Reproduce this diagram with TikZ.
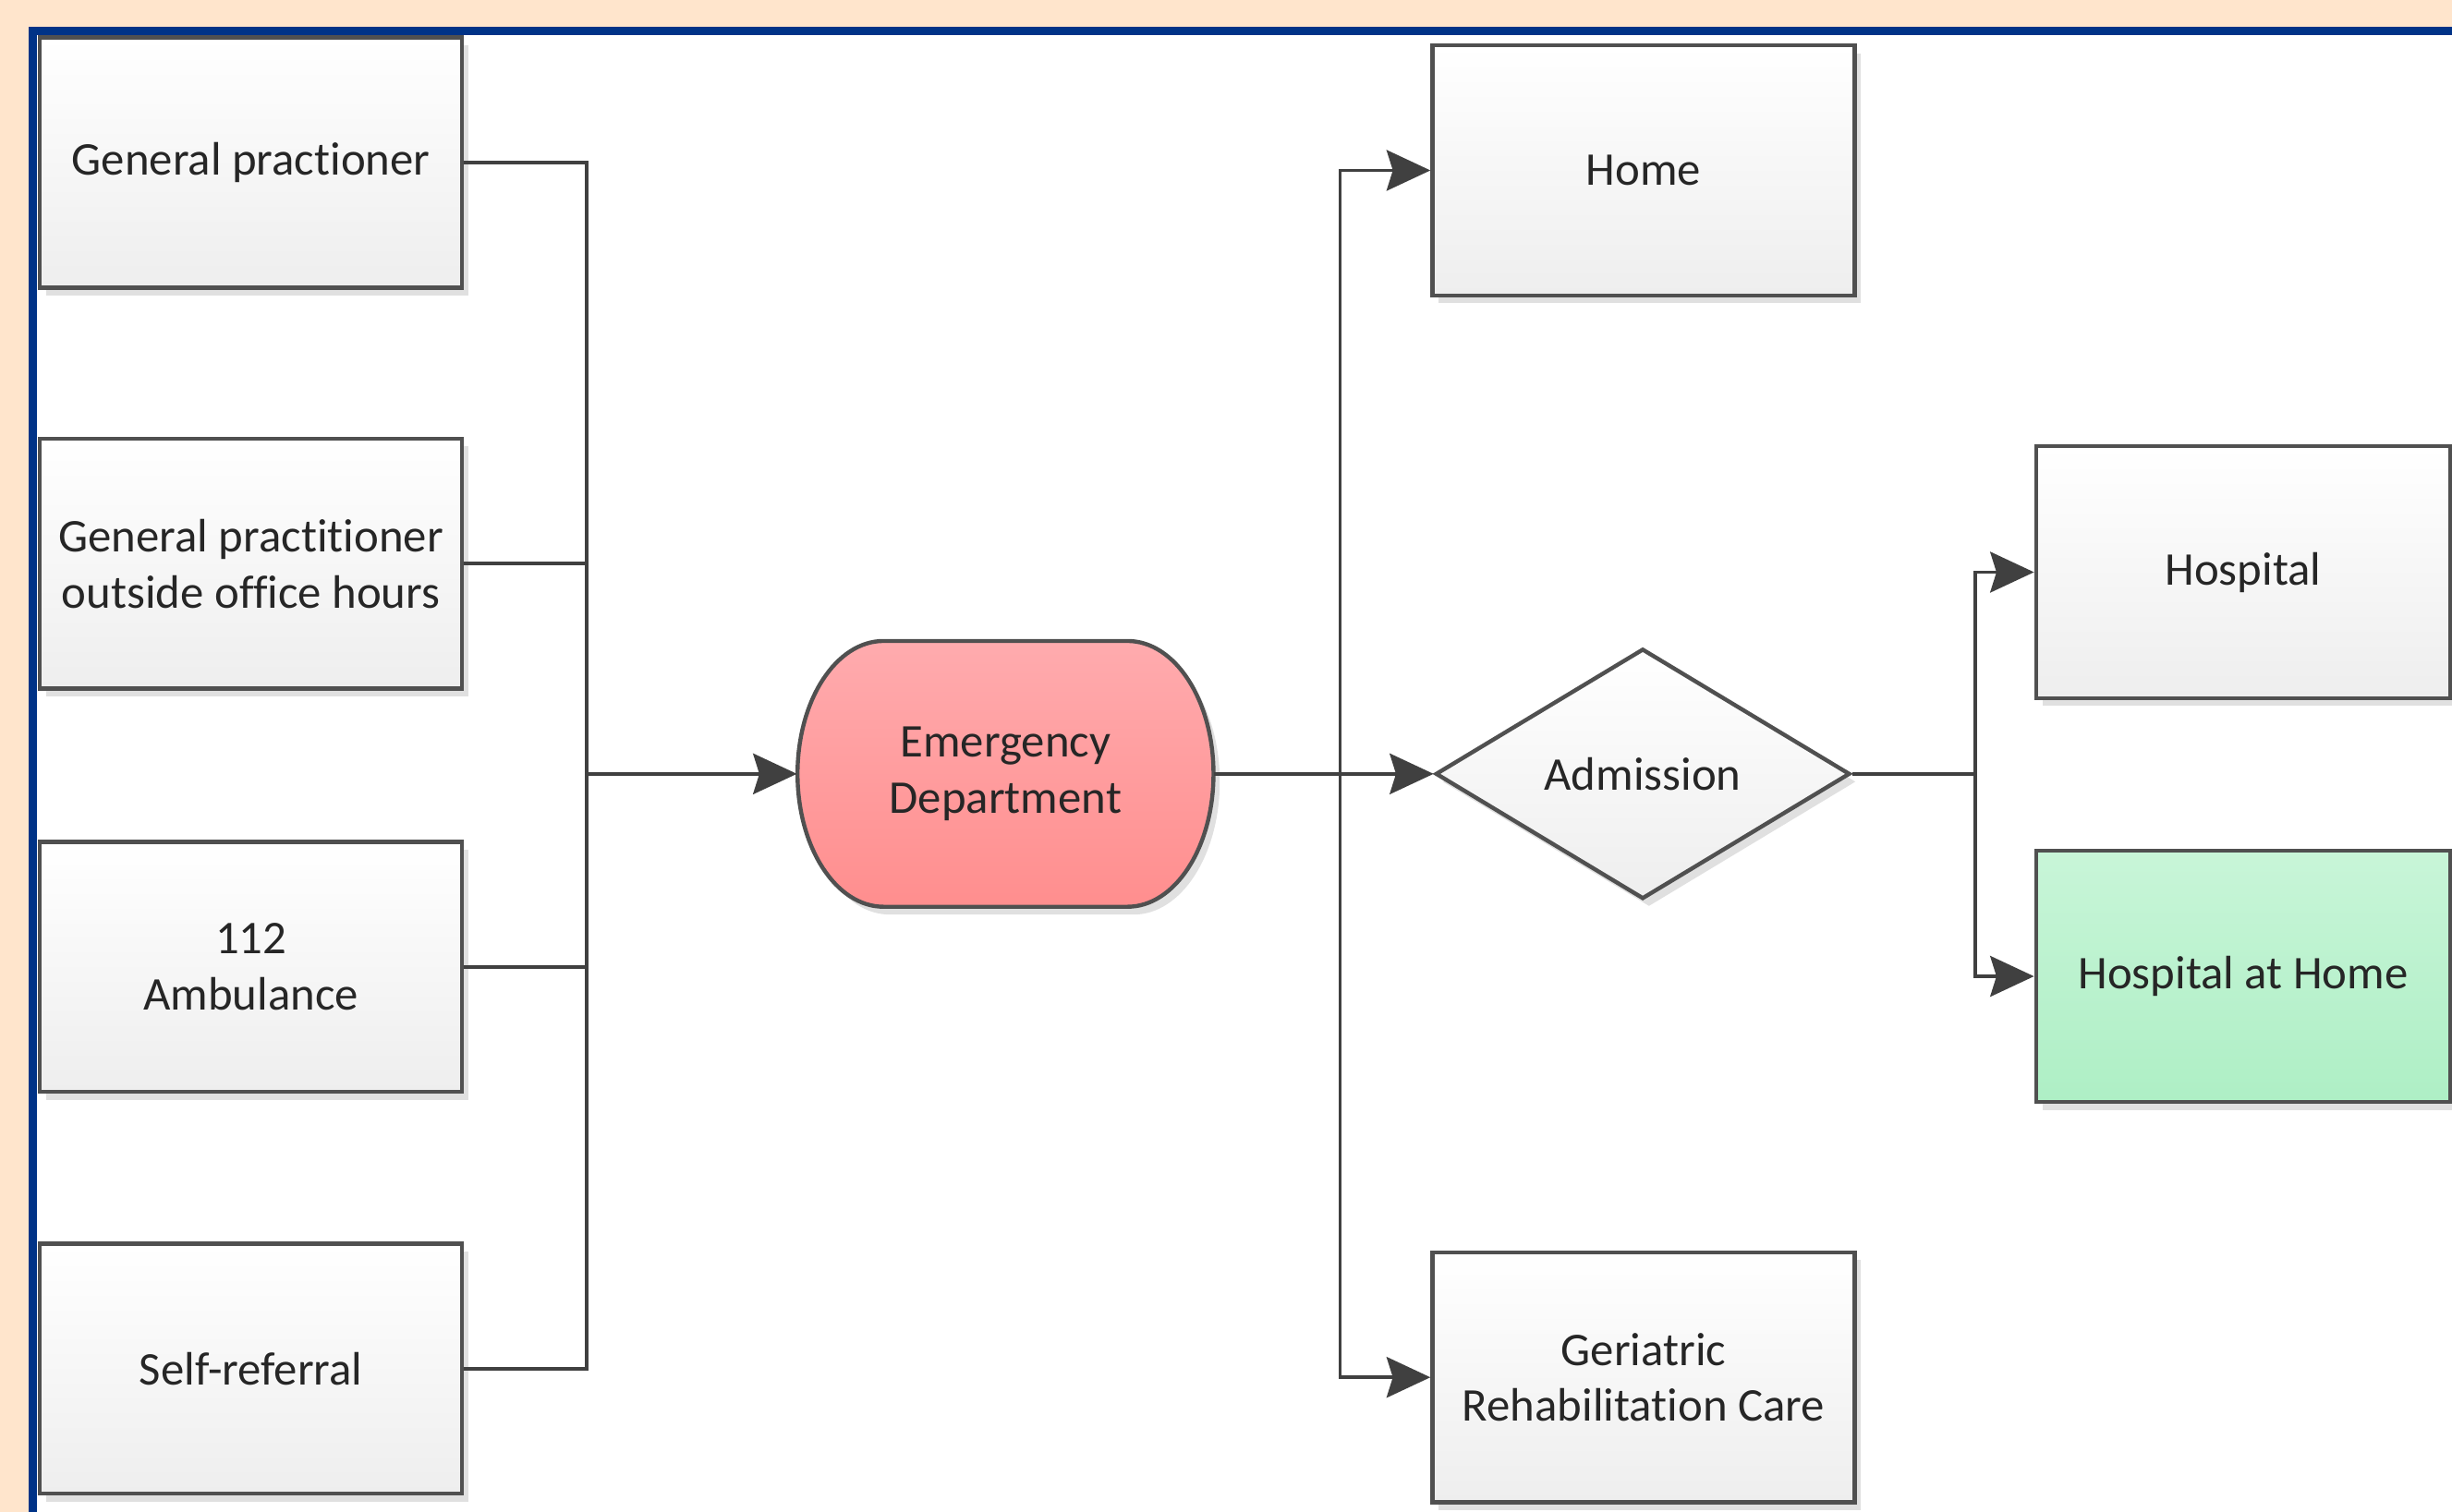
\documentclass[tikz,border=0pt]{standalone}
\usepackage{fontspec}
\setmainfont{Carlito}[Ligatures=NoCommon]
\usetikzlibrary{shapes.geometric,arrows.meta,shadows}
\definecolor{peach}{HTML}{FFE5CC}
\definecolor{frameblue}{RGB}{0,51,135}
\definecolor{boxline}{HTML}{505050}
\definecolor{conn}{HTML}{404040}
\definecolor{boxgray}{HTML}{EEEEEE}
\definecolor{txt}{HTML}{262626}
\definecolor{edtop}{HTML}{FFABAE}
\definecolor{edbot}{HTML}{FF8E8E}
\definecolor{grtop}{HTML}{C8F5D8}
\definecolor{grbot}{HTML}{AEEFC5}
\begin{document}
\begin{tikzpicture}[x=0.5pt,y=-0.5pt,
  font=\fontsize{15}{18}\selectfont,
  boxshadow/.style={drop shadow={shadow xshift=2pt,shadow yshift=-2.5pt,fill=black,opacity=0.12}},
  stepbox/.style={rectangle,draw=boxline,line width=1.3pt,minimum width=135pt,minimum height=80pt,
    inner sep=2pt,align=center,top color=white,bottom color=boxgray,text=txt,boxshadow},
  outbox/.style={stepbox,minimum width=132.5pt,minimum height=80.5pt},
  decision/.style={diamond,draw=boxline,line width=1.3pt,minimum width=132.5pt,minimum height=80pt,
    aspect=1.65,inner sep=0pt,top color=white,bottom color=boxgray,text=txt,boxshadow},
  conline/.style={draw=conn,line width=1.1pt},
  arr/.style={conline,-{Stealth[length=14pt,width=13pt,inset=2pt]}}
]
\clip (0,0) rectangle (1568,967);
\fill[peach] (0,0) rectangle (1568,967);
\filldraw[fill=white,draw=frameblue,line width=2.6pt] (21,20) rectangle (1700,1100);

% source boxes
\node[stepbox] (gp)   at (160.5,104)   {General practioner};
\node[stepbox] (gpo)  at (160.5,360.5) {General practitioner\\outside office hours};
\node[stepbox] (amb)  at (160.5,618.5) {112\\Ambulance};
\node[stepbox] (self) at (160.5,875.5) {Self-referral};

% emergency department shape
\fill[black,opacity=0.12,shift={(4,5)}]
  (565,410) -- (721,410) .. controls (751.4,410) and (776,448) .. (776,495)
  .. controls (776,542) and (751.4,580) .. (721,580) -- (565,580)
  .. controls (534.6,580) and (510,542) .. (510,495)
  .. controls (510,448) and (534.6,410) .. (565,410) -- cycle;
\shade[top color=edtop,bottom color=edbot,draw=boxline,line width=1.3pt]
  (565,410) -- (721,410) .. controls (751.4,410) and (776,448) .. (776,495)
  .. controls (776,542) and (751.4,580) .. (721,580) -- (565,580)
  .. controls (534.6,580) and (510,542) .. (510,495)
  .. controls (510,448) and (534.6,410) .. (565,410) -- cycle;
\node[rectangle,minimum width=133pt,minimum height=85pt,inner sep=0pt,align=center,text=txt]
  (ed) at (643,495) {Emergency\\Department};

% outcomes
\node[stepbox] (home) at (1051,109) {Home};
\node[decision] (adm) at (1050.5,495) {Admission};
\node[stepbox] (ger) at (1051,881) {Geriatric\\Rehabilitation Care};
\node[outbox] (hosp) at (1434.5,366) {Hospital};
\node[outbox,top color=grtop,bottom color=grbot] (hah) at (1434.5,624.5) {Hospital at Home};

% junction points
\coordinate (bus1) at (375,495);
\coordinate (bus2) at (857,495);
\coordinate (bus3) at (1263,495);

% connectors
\draw[conline] (gp.east) -| (bus1);
\draw[conline] (gpo.east) -| (bus1);
\draw[conline] (amb.east) -| (bus1);
\draw[conline] (self.east) -| (bus1);
\draw[arr] (bus1) -- (ed.west);
\draw[arr] (ed.east) -- (adm.west);
\draw[arr] (bus2) |- (home.west);
\draw[arr] (bus2) |- (ger.west);
\draw[conline] (adm.east) -- (bus3);
\draw[arr] (bus3) |- (hosp.west);
\draw[arr] (bus3) |- (hah.west);
\end{tikzpicture}
\end{document}
